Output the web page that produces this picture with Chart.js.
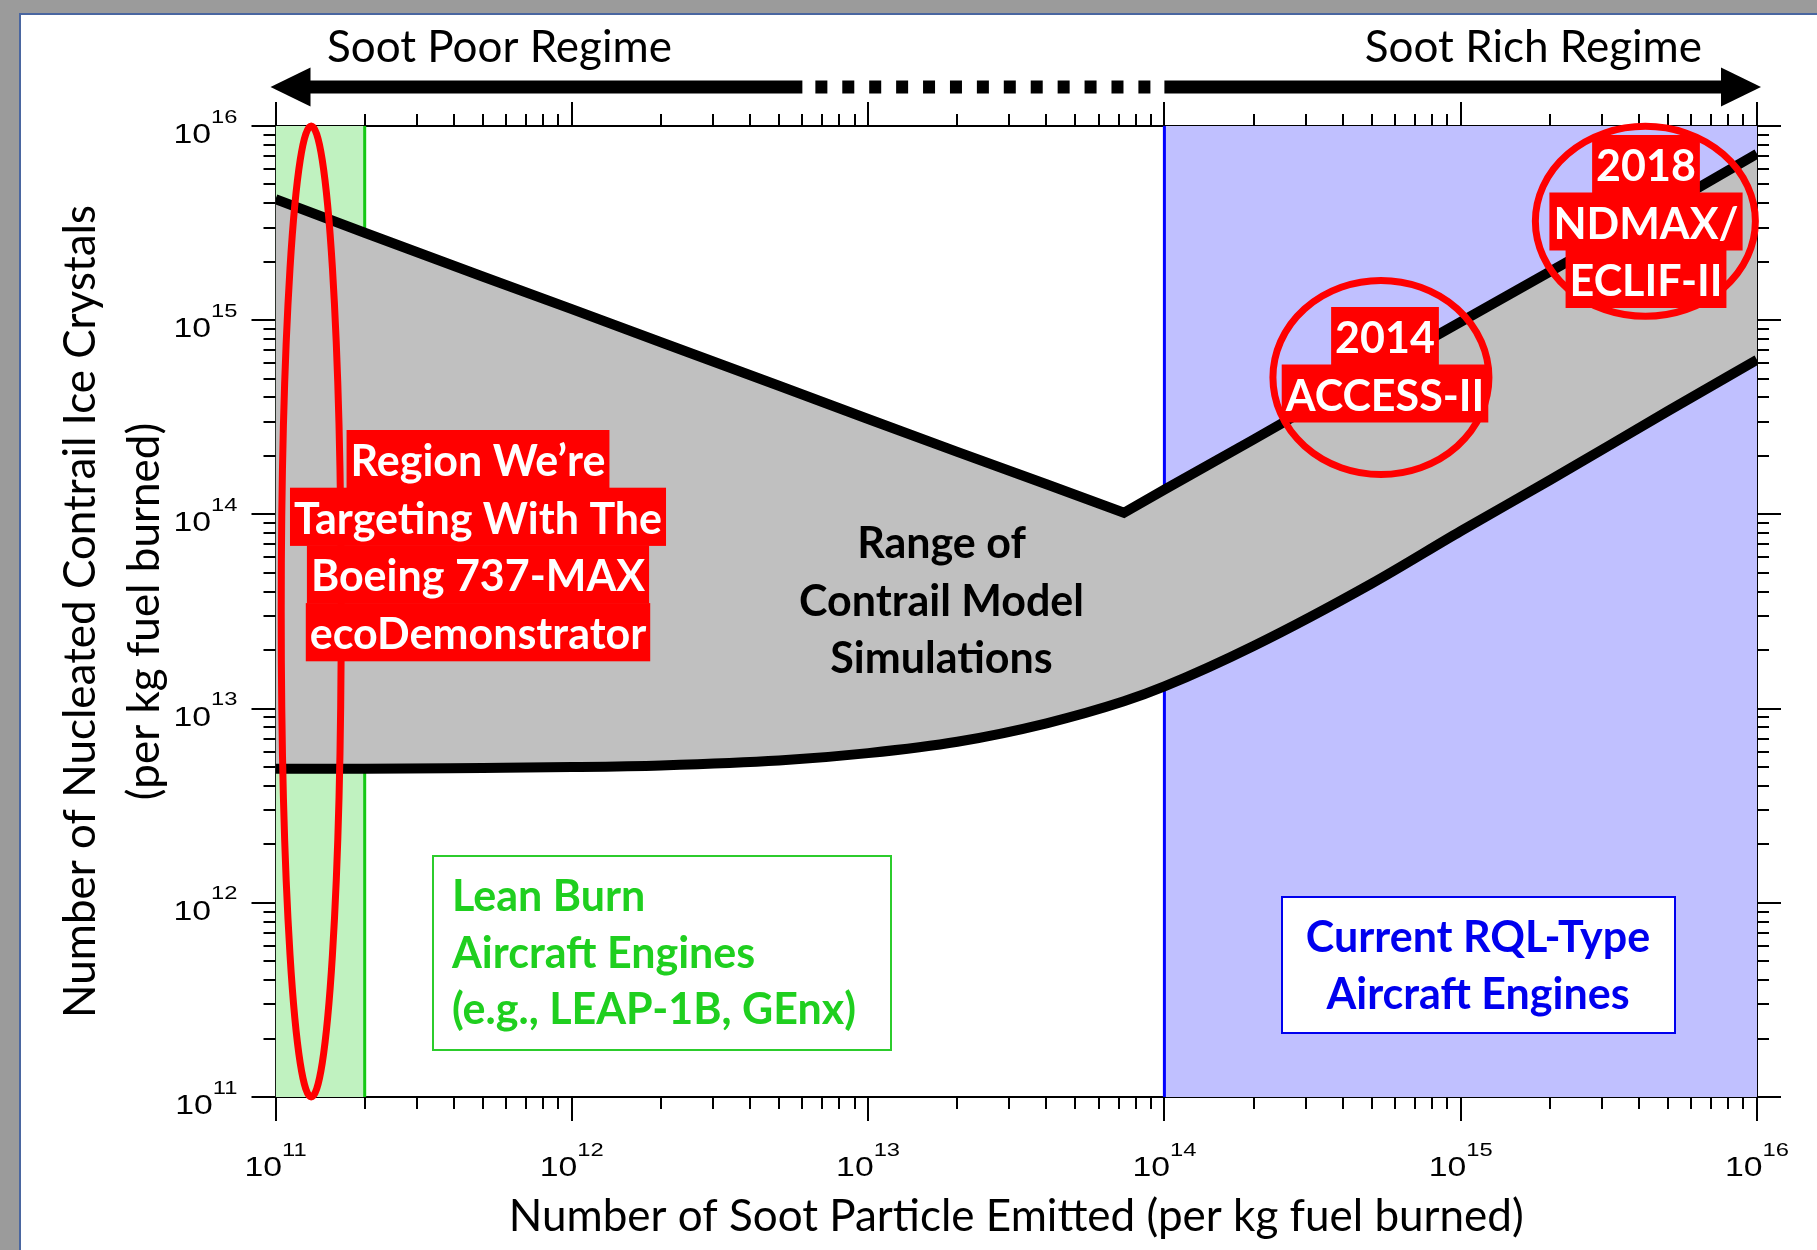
<!DOCTYPE html>
<html><head><meta charset="utf-8">
<script src="https://cdn.jsdelivr.net/npm/chart.js@4.4.1/dist/chart.umd.min.js"></script>
<style>
html,body{margin:0;padding:0;background:#9b9b9b;overflow:hidden;width:1817px;height:1250px;}
#frame{position:absolute;left:19px;top:13px;width:1798px;height:1237px;background:#fff;border-top:2px solid #4a66a0;border-left:2px solid #4a66a0;box-sizing:border-box;}
#c{position:absolute;left:0;top:0;width:1817px;height:1250px;}
</style></head><body>
<div id="frame"></div>
<canvas id="c" width="1817" height="1250"></canvas>
<script>
// ---------- data ----------
const sootX    = [1e11, 2e11, 5e11, 1e12, 2e12, 5e12, 1e13, 2e13, 4e13, 7.3e13, 1e14, 2e14, 5e14, 1e15, 2e15, 5e15, 1e16];
const upperIce = [4.2e15, 2.82e15, 1.68e15, 1.14e15, 7.7e14, 4.6e14, 3.1e14, 2.1e14, 1.43e14, 1.02e14, 1.34e14, 2.43e14, 5.4e14, 9.8e14, 1.78e15, 3.9e15, 7.2e15];
const lowerIce = [4.9e12, 4.9e12, 4.95e12, 5.0e12, 5.1e12, 5.4e12, 5.9e12, 6.75e12, 8.4e12, 1.09e13, 1.3e13, 2.1e13, 4.4e13, 8.2e13, 1.5e14, 3.4e14, 6.25e14];
const leanBurnRange = [1e11, 2e11];
const rqlRange = [1e14, 1e16];
const axisMin = 1e11, axisMax = 1e16;
const majorTicks = [1e11, 1e12, 1e13, 1e14, 1e15, 1e16];
const tickExponents = ['11', '12', '13', '14', '15', '16'];
const xTitle = 'Number of Soot Particle Emitted (per kg fuel burned)';
const yTitle = ['Number of Nucleated Contrail Ice Crystals', '(per kg fuel burned)'];

// ---------- annotation layout ----------
const LATO = 'Lato, "Open Sans", sans-serif';
const ARIAL = '"Liberation Sans", Arial, sans-serif';
const SX = 1.25; // horizontal stretch of the plot program's tick font
const BOLD = 'bold 43px ' + LATO;
const ellipses = [
  {x: 1.32e11, yTop: axisMax, yBottom: axisMin, rx: 30},
  {x: 5.38e14, y: 5.07e14, rx: 108, ry: 97},
  {x: 4.2e15, y: 3.23e15, rx: 110, ry: 95}
];
const redBlocks = [
  {cx: 478, lines: ['Region We\u2019re', 'Targeting With The', 'Boeing 737-MAX', 'ecoDemonstrator'], base: 476, step: 57.7},
  {cx: 1385, lines: ['2014', 'ACCESS-II'], base: 353, step: 57.5},
  {cx: 1646, lines: ['2018', 'NDMAX/', 'ECLIF-II'], base: 181, step: 57.5}
];

function pts(xs, ys) { return xs.map((x, i) => ({x: x, y: ys[i]})); }

function scaleCfg(pos, size) {
  return {
    type: 'logarithmic', position: pos, min: axisMin, max: axisMax, z: 1,
    afterBuildTicks: s => { s.ticks = majorTicks.map(v => ({value: v, major: true})); },
    afterFit: s => { if (pos === 'top' || pos === 'bottom') s.height = size; else s.width = size; },
    ticks: {display: false},
    grid: {display: true, drawOnChartArea: false, drawTicks: true, tickLength: 24, tickWidth: 2, tickColor: '#000', lineWidth: 2, color: '#000'},
    border: {display: true, color: '#000', width: 2}
  };
}

function drawPower(ctx, exp, ax, baseY, align, supDy) {
  ctx.font = '27px ' + ARIAL;
  const wb = ctx.measureText('10').width * SX;
  ctx.font = '19px ' + ARIAL;
  const we = ctx.measureText(exp).width * SX;
  const total = wb + we;
  const x0 = align === 'center' ? ax - total / 2 : ax - total;
  ctx.save(); ctx.translate(x0, baseY); ctx.scale(SX, 1);
  ctx.font = '27px ' + ARIAL; ctx.fillText('10', 0, 0); ctx.restore();
  ctx.save(); ctx.translate(x0 + wb, baseY + supDy); ctx.scale(SX, 1);
  ctx.font = '19px ' + ARIAL; ctx.fillText(exp, 0, 0); ctx.restore();
}

const overlay = {
  id: 'overlay',
  afterDraw(chart) {
    const ctx = chart.ctx;
    const sx = chart.scales.x, sx2 = chart.scales.x2, sy = chart.scales.y, sy2 = chart.scales.y2;
    const a = chart.chartArea;
    // minor ticks
    ctx.save();
    ctx.strokeStyle = '#000'; ctx.lineWidth = 2;
    ctx.beginPath();
    for (let n = 11; n < 16; n++) {
      for (let m = 2; m <= 9; m++) {
        const v = m * Math.pow(10, n);
        const px = Math.round(sx.getPixelForValue(v));
        const px2 = Math.round(sx2.getPixelForValue(v));
        const py = Math.round(sy.getPixelForValue(v));
        const py2 = Math.round(sy2.getPixelForValue(v));
        ctx.moveTo(px, a.bottom); ctx.lineTo(px, a.bottom + 12);
        ctx.moveTo(px2, a.top); ctx.lineTo(px2, a.top - 12);
        ctx.moveTo(a.left, py); ctx.lineTo(a.left - 12, py);
        ctx.moveTo(a.right, py2); ctx.lineTo(a.right + 12, py2);
      }
    }
    ctx.stroke();
    ctx.restore();
    // tick labels
    ctx.save();
    ctx.fillStyle = '#000'; ctx.textAlign = 'left'; ctx.textBaseline = 'alphabetic';
    majorTicks.forEach((v, i) => {
      drawPower(ctx, tickExponents[i], sx.getPixelForValue(v), a.bottom + 79, 'center', -20.5);
      drawPower(ctx, tickExponents[i], a.left - 38, sy.getPixelForValue(v) + 17, 'right', -20.5);
    });
    ctx.restore();

    // regime arrow
    ctx.save();
    ctx.fillStyle = '#000';
    const ay = 87, ah = 6.5;
    const leftTip = a.left - 5, rightTip = a.right + 4;
    const solidEnd = sx.getPixelForValue(6e12);
    const solidStart = sx.getPixelForValue(1e14);
    ctx.beginPath();
    ctx.moveTo(leftTip, ay); ctx.lineTo(leftTip + 40, ay - 19.5); ctx.lineTo(leftTip + 40, ay + 19.5); ctx.closePath(); ctx.fill();
    ctx.fillRect(leftTip + 38, ay - ah, solidEnd - leftTip - 38, ah * 2);
    ctx.beginPath();
    ctx.moveTo(rightTip, ay); ctx.lineTo(rightTip - 40, ay - 19.5); ctx.lineTo(rightTip - 40, ay + 19.5); ctx.closePath(); ctx.fill();
    ctx.fillRect(solidStart, ay - ah, rightTip - 38 - solidStart, ah * 2);
    const dashN = 13, d0 = solidEnd + 13, d1 = solidStart - 26;
    const per = (d1 - d0) / (dashN - 1);
    for (let k = 0; k < dashN; k++) ctx.fillRect(d0 + k * per, ay - ah, 12, ah * 2);
    ctx.font = '44px ' + LATO;
    ctx.textBaseline = 'alphabetic';
    ctx.textAlign = 'left'; ctx.fillText('Soot Poor Regime', 327, 62);
    ctx.textAlign = 'right'; ctx.fillText('Soot Rich Regime', 1702, 62);
    ctx.restore();

    // central label
    ctx.save();
    ctx.font = BOLD; ctx.fillStyle = '#000'; ctx.textAlign = 'center';
    ['Range of', 'Contrail Model', 'Simulations'].forEach((t, i) => ctx.fillText(t, 941.5, 558 + i * 57.5));
    ctx.restore();

    // lean burn box
    ctx.save();
    ctx.strokeStyle = '#2ccc2c'; ctx.lineWidth = 2;
    ctx.strokeRect(433, 856, 458, 194);
    ctx.fillStyle = '#1fcf1f'; ctx.font = BOLD; ctx.textAlign = 'left';
    ['Lean Burn', 'Aircraft Engines', '(e.g., LEAP-1B, GEnx)'].forEach((t, i) => ctx.fillText(t, 452, 911 + i * 56.5));
    ctx.restore();

    // RQL box
    ctx.save();
    ctx.fillStyle = '#fff'; ctx.fillRect(1282, 897, 393, 136);
    ctx.strokeStyle = '#0000ee'; ctx.lineWidth = 2; ctx.strokeRect(1282, 897, 393, 136);
    ctx.fillStyle = '#0000ee'; ctx.font = BOLD; ctx.textAlign = 'center';
    ['Current RQL-Type', 'Aircraft Engines'].forEach((t, i) => ctx.fillText(t, 1478, 952 + i * 56.5));
    ctx.restore();

    // red ellipses
    ctx.save();
    ctx.strokeStyle = '#ff0000'; ctx.lineWidth = 7;
    ellipses.forEach(e => {
      let cx = sx.getPixelForValue(e.x), cy, ry;
      if (e.yTop !== undefined) {
        const t = sy.getPixelForValue(e.yTop), bt = sy.getPixelForValue(e.yBottom);
        cy = (t + bt) / 2; ry = (bt - t) / 2;
      } else { cy = sy.getPixelForValue(e.y); ry = e.ry; }
      ctx.beginPath(); ctx.ellipse(cx, cy, e.rx, ry, 0, 0, Math.PI * 2); ctx.stroke();
    });
    ctx.restore();

    // red highlighted blocks
    ctx.save();
    ctx.font = BOLD; ctx.textAlign = 'center';
    redBlocks.forEach(b => {
      b.lines.forEach((t, i) => {
        const base = b.base + i * b.step;
        const w = ctx.measureText(t).width + 8;
        ctx.fillStyle = '#ff0000';
        ctx.fillRect(b.cx - w / 2, base - 46, w, b.step + 0.5);
      });
      b.lines.forEach((t, i) => {
        ctx.fillStyle = '#ffffff';
        ctx.fillText(t, b.cx, b.base + i * b.step);
      });
    });
    ctx.restore();
  }
};

new Chart(document.getElementById('c'), {
  type: 'line',
  data: {
    datasets: [
      {label: 'Lean burn engines', data: leanBurnRange.map(x => ({x: x, y: axisMax})), fill: 'start', backgroundColor: '#c0f2c0', borderWidth: 0, pointRadius: 0, clip: 0, order: 6},
      {label: 'RQL engines', data: rqlRange.map(x => ({x: x, y: axisMax})), fill: 'start', backgroundColor: '#c0c0ff', borderWidth: 0, pointRadius: 0, clip: 0, order: 5},
      {label: 'Lean burn limit', data: [{x: leanBurnRange[1], y: axisMin}, {x: leanBurnRange[1], y: axisMax}], borderColor: '#14c814', borderWidth: 3, pointRadius: 0, fill: false, clip: 0, order: 4},
      {label: 'RQL limit', data: [{x: rqlRange[0], y: axisMin}, {x: rqlRange[0], y: axisMax}], borderColor: '#0000ff', borderWidth: 3, pointRadius: 0, fill: false, clip: 0, order: 4},
      {label: 'Model upper bound', data: pts(sootX, upperIce), borderColor: '#000', borderWidth: 10, pointRadius: 0, fill: '+1', backgroundColor: '#c0c0c0', clip: 0, order: 2, borderJoinStyle: 'miter'},
      {label: 'Model lower bound', data: pts(sootX, lowerIce), borderColor: '#000', borderWidth: 10, pointRadius: 0, fill: false, clip: 0, order: 1, cubicInterpolationMode: 'monotone'}
    ]
  },
  options: {
    responsive: false, animation: false, events: [],
    layout: {padding: 0, autoPadding: false},
    plugins: {legend: {display: false}, tooltip: {enabled: false}},
    scales: {
      x: Object.assign(scaleCfg('bottom', 153), {title: {display: true, text: xTitle, color: '#000', font: {family: LATO, size: 44, lineHeight: 1.2}, padding: {top: 0, bottom: 7}}}),
      x2: scaleCfg('top', 126),
      y: Object.assign(scaleCfg('left', 275.5), {title: {display: true, text: yTitle, color: '#000', font: {family: LATO, size: 44, lineHeight: '64px'}, padding: {top: 49, bottom: 0}}}),
      y2: scaleCfg('right', 60)
    }
  },
  plugins: [overlay]
});
</script>
</body></html>
